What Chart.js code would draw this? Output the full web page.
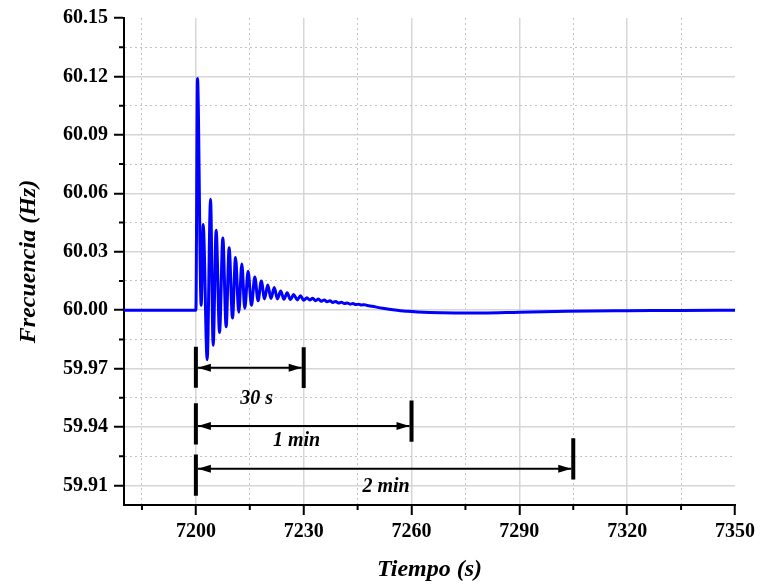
<!DOCTYPE html>
<html>
<head>
<meta charset="utf-8">
<script src="https://cdn.jsdelivr.net/npm/chart.js@4.4.1/dist/chart.umd.min.js"></script>
<style>
  html, body { margin: 0; padding: 0; background: #fff; overflow: hidden; }
  #wrap { width: 760px; height: 586px; position: relative; }
</style>
</head>
<body>
<div id="wrap"><canvas id="freqCanvas"></canvas></div>
<script>
// frequency trace (peaks and troughs of the oscillation)
const tiempo = [
  7180, 7200.0, 7200.45, 7201.47, 7202.03, 7203.14, 7204.08, 7204.81, 7205.64, 7206.58,
  7207.50, 7208.42, 7209.25, 7210.19, 7211.03, 7211.94, 7212.78, 7213.61, 7214.53, 7215.47,
  7216.39, 7217.30, 7218.20, 7219.10, 7220.00, 7220.90, 7221.80, 7222.70, 7223.60, 7224.50,
  7225.40, 7226.30, 7227.20, 7228.20, 7229.10, 7230.00, 7230.90, 7231.70, 7232.50, 7233.30,
  7234.10, 7234.90, 7235.70, 7236.50, 7237.30, 7238.10, 7238.90, 7239.70, 7240.50, 7241.30,
  7242.10, 7242.90, 7243.70, 7244.50, 7245.30, 7246.10, 7246.90, 7247.70, 7249, 7252,
  7256, 7259, 7265, 7272, 7280, 7290, 7300, 7310, 7320, 7335, 7350
];
const frecuencia = [
  60.0000, 60.0000, 60.1190, 60.0025, 60.0440, 59.9745, 60.0570, 59.9820, 60.0410, 59.9885,
  60.0370, 59.9915, 60.0320, 59.9960, 60.0270, 59.9990, 60.0237, 60.0010, 60.0200, 60.0025,
  60.0170, 60.0048, 60.0150, 60.0058, 60.0130, 60.0060, 60.0117, 60.0058, 60.0099, 60.0056,
  60.0089, 60.0055, 60.0080, 60.0053, 60.0074, 60.0051, 60.0064, 60.0052, 60.0061, 60.0049,
  60.0057, 60.0046, 60.0053, 60.0043, 60.0049, 60.0040, 60.0045, 60.0037, 60.0041, 60.0034,
  60.0037, 60.0031, 60.0034, 60.0029, 60.0031, 60.0027, 60.0028, 60.0024, 60.0020, 60.0010,
  60.0000, 59.9994, 59.9988, 59.9986, 59.9986, 59.9990, 59.9993, 59.9996, 59.9997, 59.9999, 60.0000
];

const xTickLabels = [7200, 7230, 7260, 7290, 7320, 7350];
const xMinorTicks = [7185, 7215, 7245, 7275, 7305, 7335];
const yTickLabels = ["59.91", "59.94", "59.97", "60.00", "60.03", "60.06", "60.09", "60.12", "60.15"];
const yMinorTicks = [59.925, 59.955, 59.985, 60.015, 60.045, 60.075, 60.105, 60.135];

// time-span markers under the trace
const spanLabels = ["30 s", "1 min", "2 min"];
const spanStart = [7200, 7200, 7200];
const spanEnd = [7230, 7260, 7305];
const spanArrowY = [59.9704, 59.9405, 59.9186];
const spanStartTop = [59.9812, 59.9522, 59.9259];
const spanStartBottom = [59.9602, 59.9310, 59.9048];
const spanEndTop = [59.9810, 59.9537, 59.9343];
const spanEndBottom = [59.9600, 59.9325, 59.9131];
const spanTextX = [7216.9, 7228.0, 7252.9];
const spanTextY = [59.9547, 59.9327, 59.9093];

const FONT = "'Liberation Serif', 'Times New Roman', serif";
const yMajors = yTickLabels.map(Number);
const isIn = (list, v) => list.some((m) => Math.abs(m - v) < 1e-6);

const gridColor = (majors, edge) => (c) => {
  if (!c.tick) return "transparent";
  const v = c.tick.value;
  if (Math.abs(v - edge) < 1e-6) return "transparent";
  return isIn(majors, v) ? "#d6d6d6" : "#c4c4c4";
};
const gridDash = (majors) => (c) =>
  c.tick && !isIn(majors, c.tick.value) ? [2, 3] : [];
const tickColor = (majors) => (c) =>
  c.tick && isIn(majors, c.tick.value) ? "#000" : "transparent";

const arrowHead = (ctx, px, py, dir) => {
  ctx.beginPath();
  ctx.moveTo(px, py);
  ctx.lineTo(px + dir * 13, py - 4);
  ctx.lineTo(px + dir * 13, py + 4);
  ctx.closePath();
  ctx.fill();
};

const spanPlugin = {
  id: "spans",
  afterDatasetsDraw(chart) {
    const { ctx } = chart;
    const x = chart.scales.x;
    const y = chart.scales.y;
    ctx.save();
    ctx.strokeStyle = "#000";
    ctx.fillStyle = "#000";

    // minor ticks (shorter than the major ones)
    ctx.lineWidth = 2;
    ctx.beginPath();
    xMinorTicks.forEach((v) => {
      const px = x.getPixelForValue(v);
      ctx.moveTo(px, x.top);
      ctx.lineTo(px, x.top + 5);
    });
    yMinorTicks.forEach((v) => {
      const py = y.getPixelForValue(v);
      ctx.moveTo(y.right, py);
      ctx.lineTo(y.right - 5, py);
    });
    ctx.stroke();

    ctx.font = "bold italic 20px " + FONT;
    ctx.textAlign = "center";
    ctx.textBaseline = "middle";
    spanLabels.forEach((label, i) => {
      const x0 = x.getPixelForValue(spanStart[i]);
      const x1 = x.getPixelForValue(spanEnd[i]);
      const ya = y.getPixelForValue(spanArrowY[i]);
      ctx.lineWidth = 4;
      ctx.beginPath();
      ctx.moveTo(x0, y.getPixelForValue(spanStartTop[i]));
      ctx.lineTo(x0, y.getPixelForValue(spanStartBottom[i]));
      ctx.moveTo(x1, y.getPixelForValue(spanEndTop[i]));
      ctx.lineTo(x1, y.getPixelForValue(spanEndBottom[i]));
      ctx.stroke();
      ctx.lineWidth = 2;
      ctx.beginPath();
      ctx.moveTo(x0 + 2, ya);
      ctx.lineTo(x1 - 2, ya);
      ctx.stroke();
      arrowHead(ctx, x0 + 2, ya, 1);
      arrowHead(ctx, x1 - 2, ya, -1);
      ctx.fillText(label, x.getPixelForValue(spanTextX[i]), y.getPixelForValue(spanTextY[i]));
    });
    ctx.restore();
  },
};

new Chart(document.getElementById("freqCanvas").getContext("2d"), {
  type: "line",
  data: {
    datasets: [
      {
        label: "Frecuencia",
        data: tiempo.map((t, i) => ({ x: t, y: frecuencia[i] })),
        borderColor: "#0000ff",
        borderWidth: 3,
        pointRadius: 0,
        cubicInterpolationMode: "monotone",
        fill: false,
      },
    ],
  },
  options: {
    responsive: true,
    maintainAspectRatio: false,
    animation: false,
    layout: { padding: { top: 15, right: 23, left: 0, bottom: 0 } },
    plugins: { legend: { display: false }, tooltip: { enabled: false } },
    scales: {
      x: {
        type: "linear",
        min: 7180,
        max: 7350,
        afterBuildTicks: (scale) => {
          scale.ticks = xTickLabels.concat(xMinorTicks).sort((a, b) => a - b).map((v) => ({ value: v }));
        },
        afterFit: (scale) => { scale.height = 81; },
        ticks: {
          autoSkip: false,
          maxRotation: 0,
          padding: 5,
          color: "#000",
          font: { family: FONT, size: 20, weight: "bold" },
          callback: (v) => (isIn(xTickLabels, v) ? String(v) : ""),
        },
        grid: {
          color: gridColor(xTickLabels, 7350),
          lineWidth: (c) => (c.tick && isIn(xTickLabels, c.tick.value) ? 1.5 : 1),
          tickColor: tickColor(xTickLabels),
          tickLength: 10,
          tickWidth: 2,
        },
        border: { display: true, color: "#000", width: 2, dash: gridDash(xTickLabels) },
        title: {
          display: true,
          text: "Tiempo (s)",
          color: "#000",
          font: { family: FONT, size: 24, weight: "bold", style: "italic" },
          padding: { top: 0, bottom: 2 },
        },
      },
      y: {
        type: "linear",
        min: 59.9,
        max: 60.15,
        afterBuildTicks: (scale) => {
          scale.ticks = yMajors.concat(yMinorTicks).sort((a, b) => a - b).map((v) => ({ value: v }));
        },
        afterFit: (scale) => { scale.width = 124; },
        ticks: {
          padding: 6,
          color: "#000",
          font: { family: FONT, size: 20, weight: "bold" },
          callback: (v) => (isIn(yMajors, v) ? v.toFixed(2) : ""),
        },
        grid: {
          color: gridColor(yMajors, 60.15),
          lineWidth: (c) => (c.tick && isIn(yMajors, c.tick.value) ? 1.5 : 1),
          tickColor: tickColor(yMajors),
          tickLength: 10,
          tickWidth: 2,
        },
        border: { display: true, color: "#000", width: 2, dash: gridDash(yMajors) },
        title: {
          display: true,
          text: "Frecuencia (Hz)",
          color: "#000",
          font: { family: FONT, size: 24, weight: "bold", style: "italic" },
          padding: { top: 14, bottom: 0 },
        },
      },
    },
  },
  plugins: [spanPlugin],
});
</script>
</body>
</html>
